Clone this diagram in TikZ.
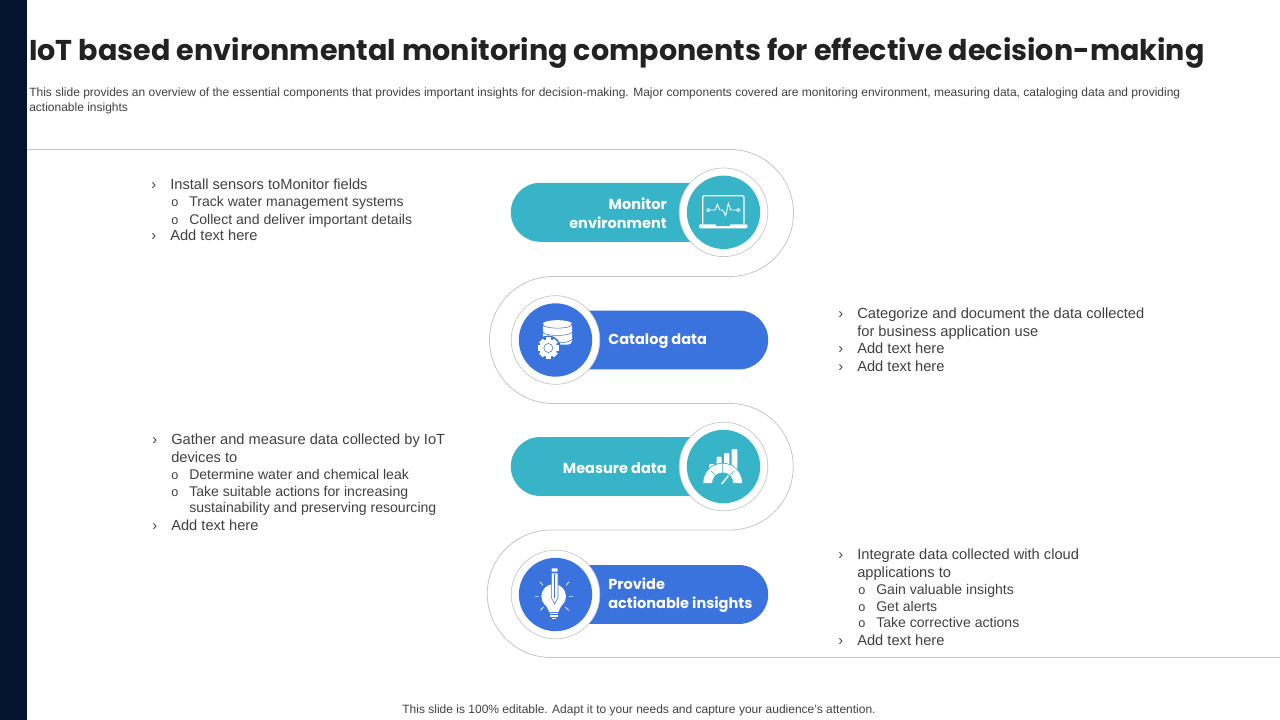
\documentclass[tikz,border=0pt]{standalone}
\usepackage{fontspec}
\setmainfont{Liberation Sans}
\newfontfamily\headfont{Poppins}
\definecolor{navybar}{HTML}{04142E}
\definecolor{tealfill}{HTML}{38B4C8}
\definecolor{bluefill}{HTML}{3A72DE}
\definecolor{wireline}{HTML}{C4C4C4}
\definecolor{bodytext}{HTML}{404040}
\definecolor{headtext}{HTML}{222222}
\tikzset{
  pill/.style={minimum width=#1, minimum height=44.2pt, rounded corners=22pt, inner sep=0pt},
  ringdisc/.style={circle, draw=wireline, fill=white, line width=0.5pt, minimum size=66.5pt, inner sep=0pt},
  icondisc/.style={circle, minimum size=55pt, inner sep=0pt},
  pilltext/.style={font=\headfont\fontsize{10.9}{14.2}\selectfont\bfseries, text=white, inner sep=0pt},
  itemtext/.style={anchor=base west, inner sep=0pt, text=bodytext, font=\fontsize{11}{13}\selectfont},
  subtext/.style={anchor=base west, inner sep=0pt, text=bodytext, font=\fontsize{10.55}{13}\selectfont},
  chevron/.style={anchor=base west, inner sep=0pt, text=bodytext, font=\fontsize{11}{13}\selectfont},
  dotmark/.style={anchor=base west, inner sep=0pt, text=bodytext, font=\fontsize{9.5}{10}\selectfont},
  smalltext/.style={anchor=base west, inner sep=0pt, text=bodytext, font=\fontsize{9}{11}\selectfont},
  zoomed/.style={shift={#1}, x=0.25pt, y=-0.25pt}
}
\begin{document}
\begin{tikzpicture}[x=0.75pt, y=-0.75pt]
  \useasboundingbox (0,0) rectangle (1280,720);
  \fill[navybar] (0,0) rectangle (27,720);
  % headings
  \node[anchor=base west, inner sep=0pt, text=headtext, font=\headfont\fontsize{21.45}{26}\selectfont\bfseries] (title) at (29,61) {IoT based environmental monitoring components for effective decision-making};
  \node[smalltext] (intro1) at (29,97) {This slide provides an overview of the essential components that provides important insights for decision-making. Major components covered are monitoring environment, measuring data, cataloging data and providing};
  \node[smalltext] (intro2) at (29,111.5) {actionable insights};
  \node[anchor=base, inner sep=0pt, text=bodytext, font=\fontsize{9}{11}\selectfont] (footer) at (639,713) {This slide is 100\% editable. Adapt it to your needs and capture your audience's attention.};
  % winding line
  \coordinate (wirestart) at (27,149.5);
  \coordinate (wireend) at (1280,657.5);
  \draw[wireline, line width=0.6pt] (wirestart) -- (730,149.5) arc[start angle=90, end angle=-90, radius=47.625pt]
    -- (553,276.5) arc[start angle=90, end angle=270, radius=47.625pt]
    -- (730,403.5) arc[start angle=90, end angle=-90, radius=47.44pt]
    -- (551,530) arc[start angle=90, end angle=270, radius=47.81pt] -- (wireend);
  % pills
  \node[pill=157pt, fill=tealfill] (monitorpill) at (615.5,212.3) {};
  \node[pill=157pt, fill=bluefill] (catalogpill) at (663.5,340) {};
  \node[pill=157pt, fill=tealfill] (measurepill) at (615.5,466.5) {};
  \node[pill=157pt, fill=bluefill] (insightpill) at (663.5,594.5) {};
  \node[ringdisc] (monitorring) at (723.5,212.3) {};
  \node[ringdisc] (catalogring) at (555.5,340) {};
  \node[ringdisc] (measurering) at (723.5,466.5) {};
  \node[ringdisc] (insightring) at (555.5,594.5) {};
  \node[icondisc, fill=tealfill] (monitordisc) at (monitorring) {};
  \node[icondisc, fill=bluefill] (catalogdisc) at (catalogring) {};
  \node[icondisc, fill=tealfill] (measuredisc) at (measurering) {};
  \node[icondisc, fill=bluefill] (insightdisc) at (insightring) {};
  \node[pilltext, anchor=east, align=right] (monitorlabel) at (667,213) {Monitor\\environment};
  \node[pilltext, anchor=west] (cataloglabel) at (608,341.5) {Catalog data};
  \node[pilltext, anchor=east] (measurelabel) at (667,468) {Measure data};
  \node[pilltext, anchor=west, align=left] (insightlabel) at (608,595.5) {Provide\\actionable insights};
  % laptop icon
  \begin{scope}[zoomed={(685,175)}]
    \draw[white, line width=0.9pt, rounded corners=1pt] (53,146) -- (53,62) -- (177,62) -- (177,146);
    \fill[white, rounded corners=1pt] (42,148) rectangle (188,160);
    \fill[tealfill] (92,148) rectangle (136,153);
    \draw[white, line width=0.7pt] (75,105) -- (90,105) -- (97,88) -- (104,105) -- (113,105) -- (122,122) -- (130,85) -- (137,105) -- (155,105);
    \draw[white, line width=0.6pt] (70,105) circle[radius=1.2pt] (160,105) circle[radius=1.2pt];
  \end{scope}
  % database icon
  \begin{scope}[zoomed={(517,302)}]
    \fill[white, rounded corners=3pt] (78,62) rectangle (165,128);
    \fill[white] (121,65) ellipse[x radius=10.8pt, y radius=2.6pt];
    \draw[bluefill, line width=0.4pt] (78,68) arc[start angle=180, end angle=360, x radius=10.8pt, y radius=2.6pt];
    \draw[bluefill, line width=0.4pt] (78,90) arc[start angle=180, end angle=360, x radius=10.8pt, y radius=2.6pt];
    \draw[bluefill, line width=0.4pt] (78,112) arc[start angle=180, end angle=360, x radius=10.8pt, y radius=2.6pt];
    \fill[bluefill] (94,138) circle[radius=9.4pt];
    \fill[white] (94,138) circle[radius=6.6pt];
    \foreach \a in {0,45,...,315}
      \fill[white, shift={(94,138)}, rotate=\a] (22,-8) rectangle (32,8);
    \draw[bluefill, line width=0.4pt] (94,138) circle[radius=3.4pt];
  \end{scope}
  % gauge icon
  \begin{scope}[zoomed={(685,429)}]
    \fill[white, rounded corners=0.8pt] (72,105) rectangle (88,135);
    \fill[white, rounded corners=0.8pt] (95,83) rectangle (110,135);
    \fill[white, rounded corners=0.8pt] (117,72) rectangle (133,135);
    \fill[white, rounded corners=0.8pt] (140,60) rectangle (157,135);
    \fill[tealfill] (113,162) circle[radius=15.1pt];
    \fill[white] (55,162) arc[start angle=180, end angle=0, radius=14.5pt] -- (145,162) arc[start angle=0, end angle=180, radius=8pt] -- cycle;
    \draw[tealfill, line width=0.4pt] (78,126) -- (92,140) (113,104) -- (113,130) (148,126) -- (134,140);
    \draw[white, line width=1.1pt] (110,165) -- (130,140);
  \end{scope}
  % bulb icon
  \begin{scope}[zoomed={(517,557)}]
    \fill[white] (110,118) circle[radius=9.2pt];
    \fill[white] (82,135) -- (138,135) -- (124,165) -- (97,165) -- cycle;
    \draw[white, line width=1pt] (98,170) -- (124,170) (99,177) -- (123,177);
    \draw[white, line width=1pt] (104,184) -- (118,184);
    \fill[white, rounded corners=0.5pt] (104,34) rectangle (122,44);
    \filldraw[fill=white, draw=bluefill, line width=0.4pt] (103,48) -- (123,48) -- (123,122) -- (113,141) -- (103,122) -- cycle;
    \draw[bluefill, line width=0.4pt] (113,52) -- (113,122);
    \draw[white, line width=0.5pt] (68,74) -- (78,85) (157,74) -- (147,85) (54,118) -- (65,118) (156,118) -- (168,118) (70,160) -- (80,150) (155,160) -- (145,150);
  \end{scope}
  % left list, top
  \node[chevron] (c1) at (151,190) {›};
  \node[itemtext] (t1) at (170,190) {Install sensors toMonitor fields};
  \node[dotmark] (d1) at (171,207) {o};
  \node[subtext] (t2) at (189,207) {Track water management systems};
  \node[dotmark] (d2) at (171,224) {o};
  \node[subtext] (t3) at (189,224) {Collect and deliver important details};
  \node[chevron] (c2) at (151,241) {›};
  \node[itemtext] (t4) at (170,241) {Add text here};
  % right list, top
  \node[chevron] (c3) at (838,318) {›};
  \node[itemtext] (t5) at (857,318) {Categorize and document the data collected};
  \node[itemtext] (t6) at (857,336) {for business application use};
  \node[chevron] (c4) at (838,353) {›};
  \node[itemtext] (t7) at (857,353) {Add text here};
  \node[chevron] (c5) at (838,371) {›};
  \node[itemtext] (t8) at (857,371) {Add text here};
  % left list, bottom
  \node[chevron] (c6) at (152,444) {›};
  \node[itemtext] (t9) at (171,444) {Gather and measure data collected by IoT};
  \node[itemtext] (t10) at (171,462) {devices to};
  \node[dotmark] (d3) at (171,479) {o};
  \node[subtext] (t11) at (189,479) {Determine water and chemical leak};
  \node[dotmark] (d4) at (171,496) {o};
  \node[subtext] (t12) at (189,496) {Take suitable actions for increasing};
  \node[subtext] (t13) at (189,512) {sustainability and preserving resourcing};
  \node[chevron] (c7) at (152,530) {›};
  \node[itemtext] (t14) at (171,530) {Add text here};
  % right list, bottom
  \node[chevron] (c8) at (838,559) {›};
  \node[itemtext] (t15) at (857,559) {Integrate data collected with cloud};
  \node[itemtext] (t16) at (857,577) {applications to};
  \node[dotmark] (d5) at (858,594) {o};
  \node[subtext] (t17) at (876,594) {Gain valuable insights};
  \node[dotmark] (d6) at (858,611) {o};
  \node[subtext] (t18) at (876,611) {Get alerts};
  \node[dotmark] (d7) at (858,627) {o};
  \node[subtext] (t19) at (876,627) {Take corrective actions};
  \node[chevron] (c9) at (838,645) {›};
  \node[itemtext] (t20) at (857,645) {Add text here};
\end{tikzpicture}
\end{document}
